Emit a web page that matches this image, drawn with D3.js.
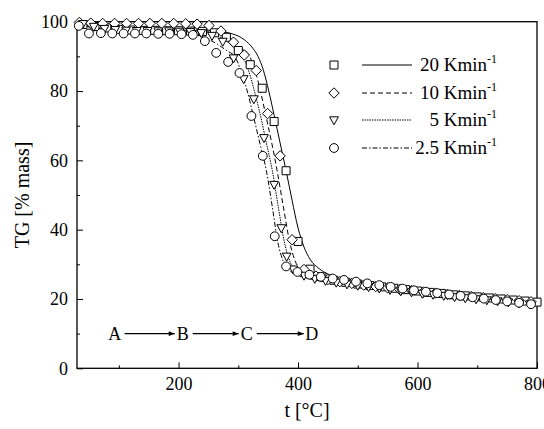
<!DOCTYPE html>
<html>
<head>
<meta charset="utf-8">
<script src="https://cdn.jsdelivr.net/npm/d3@7"></script>
<style>
  body { margin: 0; background: #fff; }
  text { font-family: "Liberation Serif", "Times New Roman", serif; fill: #000; }
</style>
</head>
<body>
<svg id="chart" width="544" height="429"></svg>
<script>
// heating rates shown in the legend
const rates = ["20", "10", "5", "2.5"];

// measured points (markers), t in °C, TG in % mass
const squareT = [40,60,80,100,120,140,160,180,200,220,240,260,280,300,320,340,360,380,400,420,440,460,480,500,520,540,560,580,600,620,640,660,680,700,720,740,760,780,800];
const squareV = [99.2,98.6,98.2,97.8,97.6,97.5,97.5,97.4,97.4,97.3,97.2,96.8,95.5,91.7,87.6,80.8,71.2,57,36.6,28.6,26.4,25.4,24.8,24.3,23.9,23.5,23.1,22.7,22.3,21.9,21.6,21.2,20.9,20.6,20.3,20.0,19.7,19.4,19.1];

const diamondT = [34,53,73,93,113,133,152,172,192,212,231,251,271,292,310,330,349,370,390,410,430,450,470,490,510,530,550,570,590,610,630,650,670,690,710,730,750,770,790];
const diamondV = [99.8,99.6,99.5,99.5,99.5,99.5,99.5,99.5,99.5,99.4,99.3,98.9,97.3,94.1,90.4,85.9,73.5,61.3,37.1,28.5,26.6,25.6,25.0,24.5,24.0,23.6,23.2,22.8,22.4,22.0,21.7,21.3,21.0,20.7,20.4,20.1,19.8,19.5,19.2];

const triangleT = [40,58,76,94,112,130,148,166,184,202,220,238,256,274,292,309,326,343,360,372,381,392,410,428,446,464,482,500,518,536,554,572,590,608,626,644,662,680,698,716,734,752,770,788];
const triangleV = [99.4,98.6,98.0,97.7,97.5,97.4,97.4,97.3,97.3,97.2,97.1,96.8,96.0,94.3,89.5,83.5,77.7,66.5,53,40.5,32.3,28.6,26.8,25.9,25.3,24.8,24.3,23.9,23.5,23.1,22.7,22.3,22.0,21.6,21.3,21.0,20.6,20.3,20.0,19.7,19.4,19.1,18.8,18.5];

const circleT = [33,50,70,89,108,127,146,166,185,205,224,244,263,283,302,322,341,361,380,399,419,438,458,477,497,516,536,555,575,594,614,633,653,672,692,711,731,750,770,790];
const circleV = [98.8,96.6,96.7,96.6,96.6,96.6,96.6,96.5,96.5,96.4,96.2,94.4,91.0,88.4,85.2,72.8,61.3,38.1,29.4,27.8,27.0,26.4,25.9,25.5,25.0,24.5,24.0,23.5,23.0,22.5,22.1,21.7,21.3,20.9,20.5,20.1,19.7,19.3,18.9,18.5];

// model curves
const fit20T = [30,45,70,120,200,260,290,310,325,333,342,351,360,370,380,390,400,410,420,435,450,470,500,550,600,650,700,750,800];
const fit20V = [100,98.9,98.1,97.8,97.6,97.3,96.5,94.8,92.2,90,86,80,73,65,57,48.5,40.5,35,31.5,28.8,27.2,25.8,24.4,23,22,21.1,20.4,19.7,19.1];
const fit10T = [30,45,70,120,200,240,270,290,305,319,328,337,346,356,365,375,386,395,405,420,440,470,500,550,600,650,700,750,800];
const fit10V = [100,98.8,98.0,97.7,97.5,97.2,96.4,95,92.5,90,86,80,73,65,57,47,36.5,31,28.4,26.8,25.8,24.8,24,22.8,21.8,21,20.2,19.5,18.9];
const fit5T = [30,45,70,120,200,230,260,280,295,307,317,327,337,347,357,367,377,386,396,410,430,460,500,550,600,650,700,750,800];
const fit5V = [100,98.8,98.0,97.6,97.3,97.0,96.0,94.5,92,90,86,80,73,65,57,46.5,36.5,31,28.4,26.8,25.8,24.8,23.8,22.7,21.7,20.9,20.1,19.4,18.8];
const fit25T = [30,45,70,120,180,220,245,265,282,294,305,315,325,336,347,357,366,375,385,400,420,450,500,550,600,650,700,750,800];
const fit25V = [100,98.8,97.9,97.5,97.1,96.5,95.3,93.5,91.5,90,85.5,80,73,65,57,46.5,36.5,31,28.4,26.8,25.8,24.8,23.7,22.6,21.6,20.8,20.0,19.4,18.8];

// stage labels along the bottom
const stages = ["A", "B", "C", "D"];
const stageT = [93, 207, 314, 423];
const stageV = 10;

const xMajor = [200, 400, 600, 800];
const xMinor = [100, 300, 500, 700];
const yMajor = [0, 20, 40, 60, 80, 100];
const yMinor = [10, 30, 50, 70, 90];

const svg = d3.select("#chart");
const mLeft = 77, mRight = 537, mTop = 21.7, mBottom = 368.3;

const x = d3.scaleLinear().domain([30, 800]).range([mLeft, mRight]);
const y = d3.scaleLinear().domain([0, 100]).range([mBottom, mTop]);

// axes (ticks point inward)
svg.append("g").attr("transform", `translate(0,${mBottom})`)
  .call(d3.axisBottom(x).tickValues(xMinor).tickSize(-3).tickFormat(""))
  .call(g => g.select(".domain").remove());
svg.append("g").attr("transform", `translate(0,${mBottom})`)
  .call(d3.axisBottom(x).tickValues(xMajor).tickSize(-6).tickPadding(9).tickFormat(d3.format("d")))
  .call(g => g.select(".domain").remove())
  .call(g => g.selectAll("text").attr("font-size", 18).attr("font-family", "Liberation Serif"));
svg.append("g").attr("transform", `translate(${mLeft},0)`)
  .call(d3.axisLeft(y).tickValues(yMinor).tickSize(-3).tickFormat(""))
  .call(g => g.select(".domain").remove());
svg.append("g").attr("transform", `translate(${mLeft},0)`)
  .call(d3.axisLeft(y).tickValues(yMajor).tickSize(-6).tickPadding(9).tickFormat(d3.format("d")))
  .call(g => g.select(".domain").remove())
  .call(g => g.selectAll("text").attr("font-size", 18).attr("font-family", "Liberation Serif"));
svg.selectAll(".tick line").attr("stroke", "#000").attr("stroke-width", 1);

svg.append("rect")
  .attr("x", mLeft).attr("y", mTop).attr("width", mRight - mLeft).attr("height", mBottom - mTop)
  .attr("fill", "none").attr("stroke", "#000").attr("stroke-width", 1.3);

// axis titles
svg.append("text").attr("x", (mLeft + mRight) / 2).attr("y", 417)
  .attr("text-anchor", "middle").attr("font-size", 20).text("t [°C]");
svg.append("text").attr("transform", `translate(29,195) rotate(-90)`)
  .attr("text-anchor", "middle").attr("font-size", 20).text("TG [% mass]");

// fitted curves
const dashes = [null, "5,3", "1.5,1", "5,2,1.5,2"];
const fits = [[fit20T, fit20V], [fit10T, fit10V], [fit5T, fit5V], [fit25T, fit25V]];
const line = d3.line().x(d => x(d[0])).y(d => y(d[1])).curve(d3.curveMonotoneX);
const plot = svg.append("g");
fits.forEach(([ts, vs], i) => {
  plot.append("path")
    .datum(ts.map((t, j) => [t, vs[j]]))
    .attr("d", line)
    .attr("fill", "none").attr("stroke", "#000").attr("stroke-width", 1)
    .attr("stroke-dasharray", dashes[i]);
});

// marker shapes
const shapes = [
  s => `M${-s},${-s}H${s}V${s}H${-s}Z`,
  s => `M0,${-s * 1.3}L${s * 1.3},0L0,${s * 1.3}L${-s * 1.3},0Z`,
  s => `M${-s * 1.1},${-s * 0.8}H${s * 1.1}L0,${s * 1.2}Z`,
  s => `M${s * 1.1},0A${s * 1.1},${s * 1.1} 0 1,1 ${-s * 1.1},0A${s * 1.1},${s * 1.1} 0 1,1 ${s * 1.1},0Z`
];
const points = [[squareT, squareV], [diamondT, diamondV], [triangleT, triangleV], [circleT, circleV]];
points.forEach(([ts, vs], i) => {
  plot.append("g").selectAll("path")
    .data(ts.map((t, j) => [t, vs[j]]))
    .join("path")
    .attr("transform", d => `translate(${x(d[0])},${y(d[1])})`)
    .attr("d", shapes[i](4))
    .attr("fill", "#fff").attr("stroke", "#000").attr("stroke-width", 1);
});

// legend
const legY = [65, 93, 120, 148];
const leg = svg.append("g");
rates.forEach((r, i) => {
  leg.append("path").attr("transform", `translate(334,${legY[i]})`)
    .attr("d", shapes[i](4)).attr("fill", "#fff").attr("stroke", "#000").attr("stroke-width", 1);
  leg.append("line").attr("x1", 362).attr("x2", 412).attr("y1", legY[i]).attr("y2", legY[i])
    .attr("stroke", "#000").attr("stroke-width", 1).attr("stroke-dasharray", dashes[i]);
  const t = leg.append("text").attr("x", 497).attr("y", legY[i] + 6)
    .attr("text-anchor", "end").attr("font-size", 19);
  t.append("tspan").text(r + " Kmin");
  t.append("tspan").attr("dy", -8).attr("font-size", 12).text("-1");
});

// A -> B -> C -> D
svg.append("defs").append("marker")
  .attr("id", "arrow").attr("viewBox", "0 0 10 10").attr("refX", 10).attr("refY", 5)
  .attr("markerWidth", 8).attr("markerHeight", 6).attr("markerUnits", "userSpaceOnUse")
  .attr("orient", "auto")
  .append("path").attr("d", "M0,1L10,5L0,9Z").attr("fill", "#000");
stages.forEach((s, i) => {
  svg.append("text").attr("x", x(stageT[i])).attr("y", y(stageV) + 6)
    .attr("text-anchor", "middle").attr("font-size", 18).text(s);
  if (i < stages.length - 1) {
    svg.append("line")
      .attr("x1", x(stageT[i]) + 10).attr("x2", x(stageT[i + 1]) - 8)
      .attr("y1", y(stageV)).attr("y2", y(stageV))
      .attr("stroke", "#000").attr("stroke-width", 1.2).attr("marker-end", "url(#arrow)");
  }
});
</script>
</body>
</html>
